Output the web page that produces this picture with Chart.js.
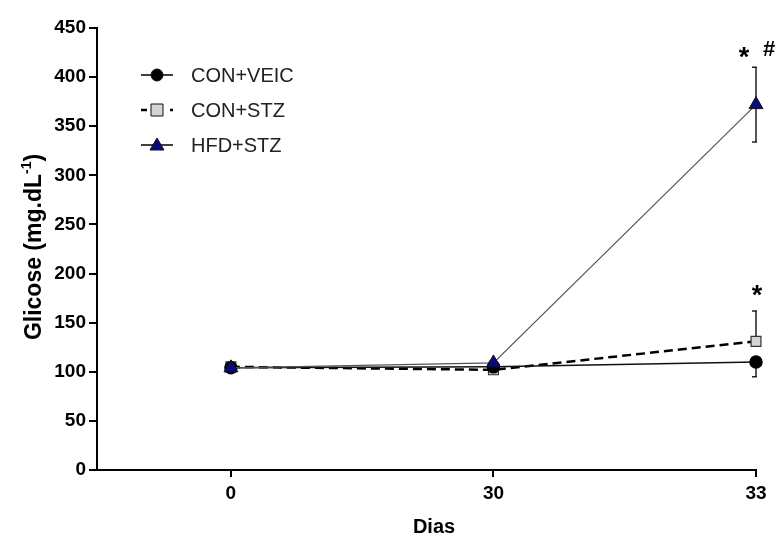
<!DOCTYPE html>
<html><head><meta charset="utf-8">
<script src="https://cdn.jsdelivr.net/npm/chart.js@4"></script>
<style>html,body{margin:0;padding:0;background:#fff}#wrap{width:778px;height:539px}</style>
</head><body><div id="wrap"><canvas id="c" width="778" height="539"></canvas></div>
<script>
const categories = ['0', '30', '33'];
const xPos = [0, 1, 2];
const conVeic = [104, 105, 110];
const conVeicErrUp = [0, 0, 0];
const conVeicErrDown = [2, 2, 15];
const conStz = [105, 102, 131];
const conStzErrUp = [2, 2, 31];
const conStzErrDown = [0, 0, 0];
const hfdStz = [104, 109, 372];
const hfdStzErrUp = [2, 2, 38];
const hfdStzErrDown = [2, 2, 38];
const seriesNames = ['CON+VEIC', 'CON+STZ', 'HFD+STZ'];
const yTicks = [0, 50, 100, 150, 200, 250, 300, 350, 400, 450];
const yTitle = 'Glicose (mg.dL';
const yTitleSup = '-1';
const xTitle = 'Dias';

const FONT = 'Liberation Sans, Arial, sans-serif';
const toPts = arr => arr.map((v, i) => ({x: xPos[i], y: v}));

const errPlugin = {
  id: 'errbars',
  beforeDatasetsDraw(chart) {
    const ctx = chart.ctx, ys = chart.scales.y;
    chart.data.datasets.forEach((ds, di) => {
      const meta = chart.getDatasetMeta(di);
      meta.data.forEach((pt, i) => {
        const v = ds.data[i].y;
        ctx.save();
        ctx.strokeStyle = '#222'; ctx.lineWidth = 1.5;
        [[ds.errUp[i], 1], [ds.errDown[i], -1]].forEach(([e, s]) => {
          if (!e) return;
          const yy = ys.getPixelForValue(v + s * e);
          ctx.beginPath(); ctx.moveTo(pt.x, pt.y); ctx.lineTo(pt.x, yy);
          ctx.moveTo(pt.x - 4, yy); ctx.lineTo(pt.x + 1, yy); ctx.stroke();
        });
        ctx.restore();
      });
    });
  },
  afterDraw(chart) {
    const ctx = chart.ctx, xs = chart.scales.x, ys = chart.scales.y;
    ctx.save();
    // axis titles
    ctx.fillStyle = '#000';
    ctx.textBaseline = 'alphabetic';
    ctx.save();
    ctx.translate(41, 247);
    ctx.rotate(-Math.PI / 2);
    ctx.font = 'bold 23px ' + FONT;
    const w1 = ctx.measureText(yTitle).width;
    ctx.font = 'bold 14px ' + FONT;
    const w2 = ctx.measureText(yTitleSup).width;
    ctx.font = 'bold 23px ' + FONT;
    const w3 = ctx.measureText(')').width;
    let x0 = -(w1 + w2 + w3) / 2;
    ctx.textAlign = 'left';
    ctx.fillText(yTitle, x0, 0);
    ctx.font = 'bold 14px ' + FONT;
    ctx.fillText(yTitleSup, x0 + w1, -10);
    ctx.font = 'bold 23px ' + FONT;
    ctx.fillText(')', x0 + w1 + w2, 0);
    ctx.restore();
    ctx.font = 'bold 20px ' + FONT;
    ctx.textAlign = 'center';
    ctx.fillText(xTitle, 434, 533);
    // annotations
    ctx.textBaseline = 'middle';
    const x2 = xs.getPixelForValue(2);
    ctx.font = 'bold 27px ' + FONT;
    ctx.fillText('*', x2 - 12, ys.getPixelForValue(424) + 5);
    ctx.font = 'bold 22px ' + FONT;
    ctx.fillText('#', x2 + 13, ys.getPixelForValue(428));
    ctx.font = 'bold 27px ' + FONT;
    ctx.fillText('*', x2 + 1, ys.getPixelForValue(182) + 5);
    // legend
    const ds = chart.data.datasets;
    const rows = [75, 110, 145];
    ctx.font = '20px ' + FONT;
    ctx.textAlign = 'left';
    ds.forEach((d, i) => {
      const y = rows[i];
      ctx.strokeStyle = '#000'; ctx.lineWidth = i === 1 ? 2.5 : 1.5;
      ctx.beginPath();
      if (i === 1) { ctx.moveTo(141, y); ctx.lineTo(147, y); ctx.moveTo(170, y); ctx.lineTo(173, y); }
      else { ctx.moveTo(141, y); ctx.lineTo(173, y); }
      ctx.stroke();
      ctx.fillStyle = d.pointBackgroundColor; ctx.strokeStyle = '#111'; ctx.lineWidth = 1;
      ctx.beginPath();
      if (d.pointStyle === 'circle') { ctx.arc(157, y, 6, 0, Math.PI * 2); ctx.fill(); ctx.stroke(); }
      else if (d.pointStyle === 'rect') { ctx.rect(151, y - 6, 12, 12); ctx.fill(); ctx.stroke(); }
      else { ctx.moveTo(157, y - 7); ctx.lineTo(164, y + 5); ctx.lineTo(150, y + 5); ctx.closePath(); ctx.fill(); ctx.stroke(); }
      ctx.fillStyle = '#222';
      ctx.fillText(seriesNames[i], 191, y + 1);
    });
    ctx.restore();
  }
};

new Chart(document.getElementById('c'), {
  type: 'line',
  data: {
    datasets: [
      {label: seriesNames[0], data: toPts(conVeic), errUp: conVeicErrUp, errDown: conVeicErrDown,
       borderColor: '#111', borderWidth: 1.5, pointStyle: 'circle', pointRadius: 6,
       pointBackgroundColor: '#000', pointBorderColor: '#000', order: 1, clip: false},
      {label: seriesNames[1], data: toPts(conStz), errUp: conStzErrUp, errDown: conStzErrDown,
       borderColor: '#000', borderWidth: 2.5, borderDash: [9, 5], pointStyle: 'rect', pointRadius: 7,
       pointBackgroundColor: '#d4d4d4', pointBorderColor: '#333', pointBorderWidth: 1.2, order: 2, clip: false},
      {label: seriesNames[2], data: toPts(hfdStz), errUp: hfdStzErrUp, errDown: hfdStzErrDown,
       borderColor: '#555', borderWidth: 1.2, pointStyle: 'triangle', pointRadius: 8,
       pointBackgroundColor: '#0a0a80', pointBorderColor: '#111', pointBorderWidth: 1, order: 0, clip: false}
    ]
  },
  options: {
    responsive: false, animation: false,
    layout: {padding: {top: 28, right: 22, left: 0, bottom: 0}},
    plugins: {legend: {display: false}, tooltip: {enabled: false}},
    scales: {
      x: {
        type: 'linear', min: -0.51, max: 2,
        afterBuildTicks: s => { s.ticks = xPos.map(v => ({value: v})); },
        afterFit: s => { s.height = 69; },
        border: {color: '#000', width: 2},
        grid: {drawOnChartArea: false, drawTicks: true, tickLength: 7, color: '#000', lineWidth: 2},
        ticks: {color: '#000', font: {family: FONT, size: 19, weight: 'bold'}, padding: 5,
                callback: (v) => categories[xPos.indexOf(v)] ?? ''},
        title: {display: false}
      },
      y: {
        min: 0, max: 450,
        afterBuildTicks: s => { s.ticks = yTicks.map(v => ({value: v})); },
        afterFit: s => { s.width = 97; },
        border: {color: '#000', width: 2},
        grid: {drawOnChartArea: false, drawTicks: true, tickLength: 8, color: '#000', lineWidth: 2},
        ticks: {color: '#000', font: {family: FONT, size: 19, weight: 'bold'}, padding: 3},
        title: {display: false}
      }
    }
  },
  plugins: [errPlugin]
});
</script></body></html>
